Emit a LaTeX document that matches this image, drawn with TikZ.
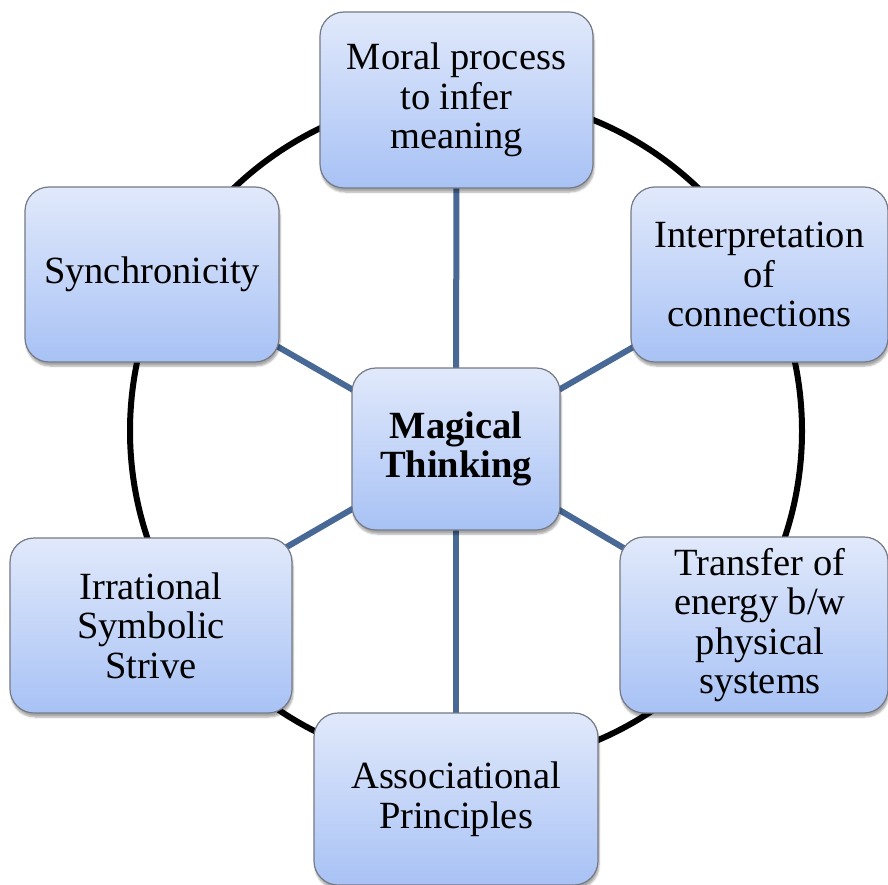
\documentclass[tikz,border=0pt]{standalone}
\usepackage{fontspec}
\setmainfont{Liberation Serif}
\usetikzlibrary{backgrounds,shadows.blur}
\definecolor{boxtop}{RGB}{225,233,251}
\definecolor{boxbot}{RGB}{168,194,245}
\definecolor{boxline}{RGB}{118,122,132}
\definecolor{spokecol}{RGB}{72,104,150}
\begin{document}
\begin{tikzpicture}[x=1pt,y=-1pt]
\tikzset{
  box/.style={draw=boxline, line width=1.2pt, rounded corners=24pt,
    top color=boxtop, bottom color=boxbot, inner sep=0pt, align=center,
    font=\fontsize{38.5}{39.5}\selectfont,
    blur shadow={shadow xshift=1pt, shadow yshift=-4pt, shadow blur steps=6, shadow opacity=35}},
  spoke/.style={draw=spokecol, line width=6pt},
  ring/.style={draw=black, line width=6pt}
}
\useasboundingbox (0,0) rectangle (888,885);
\node[box, minimum width=273pt, minimum height=176pt] (t) at (456.5,100) {Moral process\\to infer\\meaning};
\node[box, minimum width=254pt, minimum height=175pt] (s) at (152,274.5) {Synchronicity};
\node[box, minimum width=257pt, minimum height=175pt] (ip) at (759.5,274.5) {Interpretation\\of\\connections};
\node[box, minimum width=208pt, minimum height=162pt] (c) at (456,449) {\bfseries Magical\\\bfseries Thinking};
\node[box, minimum width=282pt, minimum height=175pt] (ir) at (151,625.5) {Irrational\\Symbolic\\Strive};
\node[box, minimum width=268pt, minimum height=176pt] (tr) at (754,625) {\hspace*{12pt}Transfer of\\\hspace*{12pt}energy b/w\\\hspace*{12pt}physical\\\hspace*{12pt}systems};
\node[box, minimum width=284pt, minimum height=172pt] (a) at (456,799) {Associational\\Principles};
\begin{scope}[on background layer]
  \coordinate (cc) at (466,431);
  \draw[ring] (cc) circle[radius=336];
  \draw[spoke] (c.center) -- (t.center);
  \draw[spoke] (c.center) -- (s.center);
  \draw[spoke] (c.center) -- (ip.center);
  \draw[spoke] (c.center) -- (ir.center);
  \draw[spoke] (c.center) -- (tr.center);
  \draw[spoke] (c.center) -- (a.center);
\end{scope}
\end{tikzpicture}
\end{document}
